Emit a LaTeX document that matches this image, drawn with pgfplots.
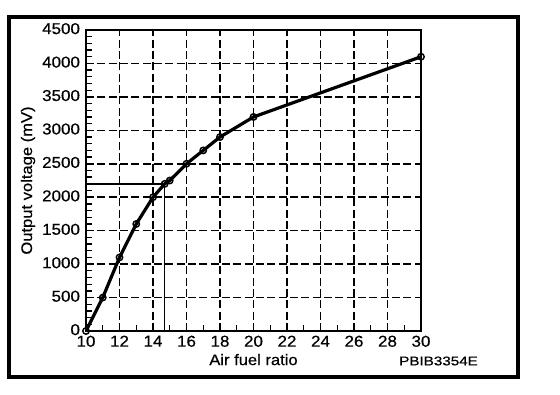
\documentclass[border=0pt]{standalone}
\usepackage{fontspec}
\setmainfont[FakeStretch=1.08, FakeBold=0.5]{Liberation Sans}
\newfontfamily\codefont[FakeStretch=1.2, FakeBold=0.5]{Liberation Sans}
\usepackage{pgfplots}
\pgfplotsset{compat=1.18}
\begin{document}
\begin{tikzpicture}
\begin{axis}[
  at={(0,0)}, anchor=south west,
  scale only axis,
  width=251.25pt, height=225.75pt,
  xmin=10, xmax=30, ymin=0, ymax=4500,
  xtick={10,12,...,30}, ytick={0,500,...,4500},
  minor x tick num=1, minor y tick num=4,
  xtick pos=bottom, ytick pos=left,
  tick align=inside,
  major tick length=4.5pt, minor tick length=4.5pt,
  tick style={black, line width=1pt},
  axis line style={line width=1.5pt},
  grid=major,
  major grid style={black, line width=1.1pt, dash pattern=on 6pt off 2.5pt},
  /pgf/number format/assume math mode=true,
  /pgf/number format/set thousands separator={},
  ticklabel style={font=\fontsize{11.8}{13}\selectfont},
  xticklabel style={yshift=0pt},
  yticklabel style={xshift=-1pt, yshift=1pt},
  xlabel={Air fuel ratio},
  ylabel={Output voltage (mV)},
  label style={font=\fontsize{11.5}{13}\selectfont},
  xlabel style={at={(axis description cs:0.5,-0.095)}, anchor=center},
  ylabel style={at={(axis description cs:-0.173,0.5)}, anchor=center},
]
\addplot[black, line width=1.1pt] coordinates {(10,2200) (14.7,2200) (14.7,0)};
\addplot[black, line width=2.4pt, mark=o, mark size=2.4pt,
  mark options={fill=white, line width=1.1pt}] coordinates {
  (10,0) (11,500) (12,1100) (13,1600) (14,2000) (14.7,2200) (15,2250)
  (16,2500) (17,2700) (18,2900) (20,3200) (30,4100)};
\end{axis}
\useasboundingbox (-64.5pt,-47.25pt) rectangle (355.5pt,248.25pt);
\draw[line width=2.4pt] (-57.75pt,-34.5pt) rectangle (324pt,235.5pt);
\node[font=\codefont\fontsize{9.5}{11}\selectfont, anchor=center] at (264.4pt,-22.5pt) {PBIB3354E};
\end{tikzpicture}
\end{document}
